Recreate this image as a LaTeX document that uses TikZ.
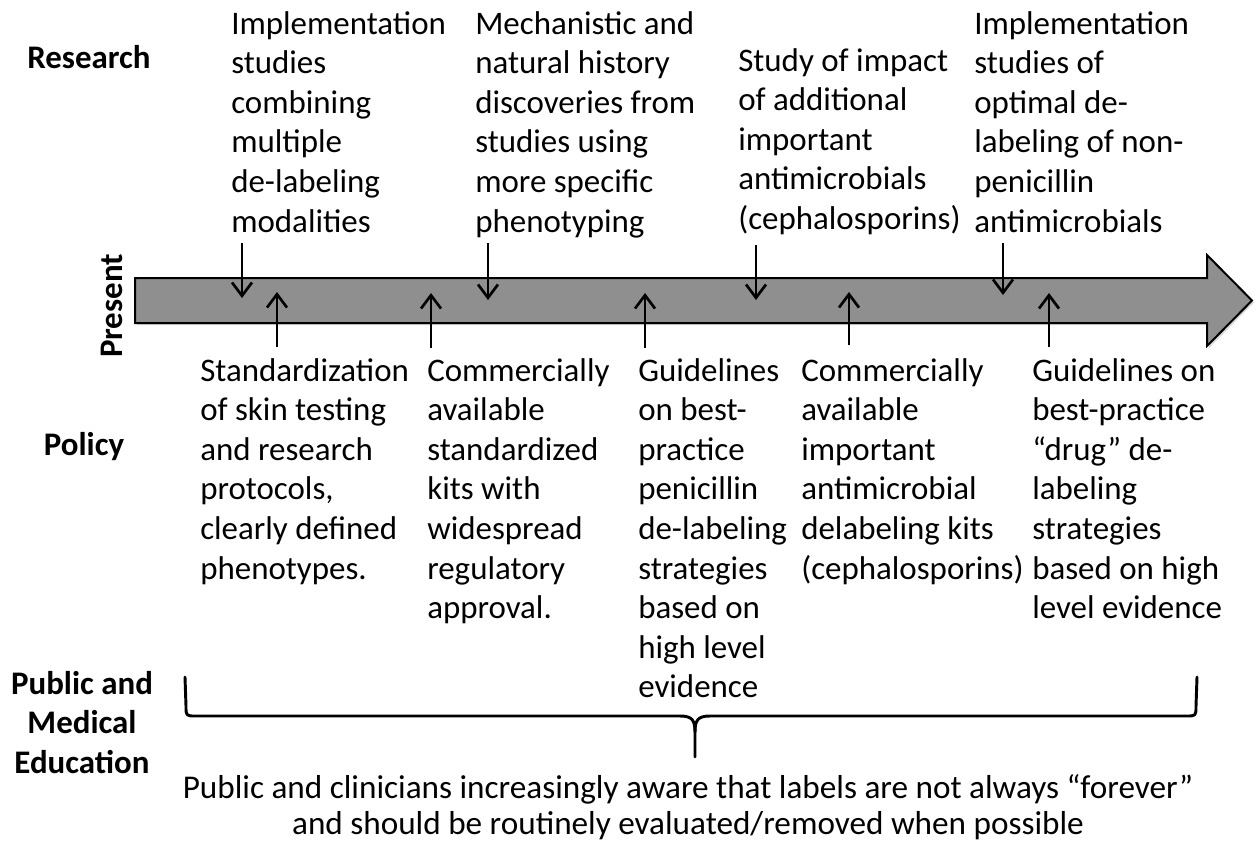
\documentclass[tikz,border=0pt]{standalone}
\usepackage{fontspec}
\setmainfont{Carlito}
\usetikzlibrary{arrows.meta,shadows}
\definecolor{bargray}{RGB}{143,143,143}
\newcommand{\tlsize}{\fontsize{24.7}{29.7}\selectfont}
\tikzstyle{entry}=[anchor=north west,align=left,inner sep=0pt,font=\tlsize]
\tikzstyle{rowlabel}=[inner sep=0pt,font=\tlsize\bfseries]
\tikzstyle{pointer}=[draw,line width=2.2pt,-{Straight Barb[length=10pt,width=15pt,line width=2pt]}]
\tikzstyle{bracket}=[draw,line width=2.2pt,line join=round,line cap=round]

\begin{document}
\begin{tikzpicture}[x=0.75pt,y=-0.75pt]
        \useasboundingbox (0,0) rectangle (1256,844);
        % row labels
        \node[rowlabel,anchor=base west] (research) at (27,68) {Research};
        \node[rowlabel,anchor=base] (policy) at (84,455) {Policy};
        \node[rowlabel,anchor=north,align=center] (education) at (82,671) {Public and\\Medical\\Education};
        \node[rowlabel,rotate=90,anchor=base] (present) at (122,306) {Present};
        % time line
        \draw[fill=bargray,line width=1.5pt,drop shadow={shadow xshift=1.5pt,shadow yshift=-1.5pt,opacity=0.3}]
          (135,278) -- (1207,278) -- (1207,255) -- (1252,300.5) -- (1207,346) -- (1207,323) -- (135,323) -- cycle;
        % research, above the line
        \node[entry] (res1) at (231,11) {Implementation\\studies\\combining\\multiple\\de-labeling\\modalities};
        \node[entry] (res2) at (475,11) {Mechanistic and\\natural history\\discoveries from\\studies using\\more specific\\phenotyping};
        \node[entry] (res3) at (738,48) {Study of impact\\of additional\\important\\antimicrobials\\(cephalosporins)};
        \node[entry] (res4) at (974,11) {Implementation\\studies of\\optimal de-\\labeling of non-\\penicillin\\antimicrobials};
        % policy, below the line
        \node[entry] (pol1) at (200,358) {Standardization\\of skin testing\\and research\\protocols,\\clearly defined\\phenotypes.};
        \node[entry] (pol2) at (427,358) {Commercially\\available\\standardized\\kits with\\widespread\\regulatory\\approval.};
        \node[entry] (pol3) at (638,358) {Guidelines\\on best-\\practice\\penicillin\\de-labeling\\strategies\\based on\\high level\\evidence};
        \node[entry] (pol4) at (801,358) {Commercially\\available\\important\\antimicrobial\\delabeling kits\\(cephalosporins)};
        \node[entry] (pol5) at (1032,358) {Guidelines on\\best-practice\\“drug” de-\\labeling\\strategies\\based on high\\level evidence};
        % arrow ends
        \coordinate (d1a) at (242,243); \coordinate (d1b) at (242,298);
        \coordinate (d2a) at (488,243); \coordinate (d2b) at (488,300);
        \coordinate (d3a) at (756,245); \coordinate (d3b) at (756,300);
        \coordinate (d4a) at (1003,243); \coordinate (d4b) at (1003,295);
        \coordinate (u1a) at (277,347); \coordinate (u1b) at (277,292);
        \coordinate (u2a) at (431,348); \coordinate (u2b) at (431,293);
        \coordinate (u3a) at (645,348); \coordinate (u3b) at (645,293);
        \coordinate (u4a) at (849,345); \coordinate (u4b) at (849,292);
        \coordinate (u5a) at (1049,347); \coordinate (u5b) at (1049,293);
        \draw[pointer] (d1a) -- (d1b);
        \draw[pointer] (d2a) -- (d2b);
        \draw[pointer] (d3a) -- (d3b);
        \draw[pointer] (d4a) -- (d4b);
        \draw[pointer] (u1a) -- (u1b);
        \draw[pointer] (u2a) -- (u2b);
        \draw[pointer] (u3a) -- (u3b);
        \draw[pointer] (u4a) -- (u4b);
        \draw[pointer] (u5a) -- (u5b);
        % education brace
        \draw[bracket] (185,677) -- (186,706) .. controls (186,716) .. (196,716) -- (680,716)
          .. controls (692,716) and (695,720) .. (695,732) -- (695,757);
        \draw[bracket] (1197,677) -- (1196,706) .. controls (1196,716) .. (1186,716) -- (710,716)
          .. controls (698,716) and (695,720) .. (695,732);
        \node[anchor=north,align=center,inner sep=0pt,font=\fontsize{24.9}{27}\selectfont] (aware) at (688,774)
          {Public and clinicians increasingly aware that labels are not always “forever”\\and should be routinely evaluated/removed when possible};
\end{tikzpicture}
\end{document}
